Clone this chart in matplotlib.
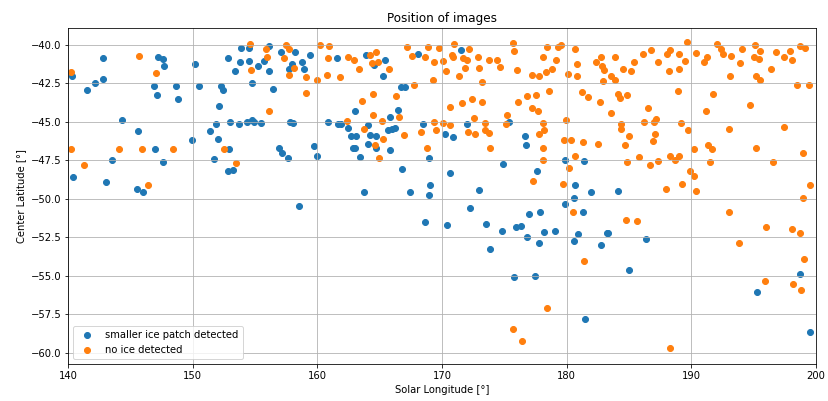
import matplotlib
matplotlib.use("Agg")
import matplotlib.pyplot as plt

# smaller ice patch detected (solar longitude, center latitude)
ice_lon = [140.32, 140.40, 141.50, 142.14, 142.78, 142.80, 142.99, 143.47, 144.35, 145.52,
           146.03, 145.63, 146.91, 147.15, 147.23, 147.60, 147.68, 146.99, 147.60, 148.67,
           148.80, 149.90, 150.14, 150.48, 151.39, 151.68, 151.84, 152.03, 152.11, 152.27,
           152.38, 152.80, 152.88, 153.02, 153.26, 152.83, 153.36, 153.76, 153.87, 154.51,
           154.51, 154.75, 153.71, 154.32, 154.75, 154.88,
           155.26, 155.50, 155.74, 156.08, 156.14, 156.40, 157.07, 157.68, 157.95, 158.22,
           158.80, 158.96, 159.44, 157.79, 158.06, 156.88, 157.15, 157.66, 159.71, 159.95,
           160.86, 161.60, 161.68, 161.87, 162.48, 162.70, 163.07, 163.02, 162.86, 163.02,
           163.44, 163.87, 164.08, 164.19, 164.06, 164.51, 164.72, 164.67, 165.23, 165.44,
           165.82, 165.82, 165.68, 166.00, 166.19, 166.46, 166.72, 167.07, 166.80, 167.47,
           163.76, 168.46, 168.96, 169.04, 168.96, 168.08, 158.54, 168.62,
           170.22, 170.86, 170.67, 171.55, 171.98, 175.39, 174.88, 176.70, 176.78, 177.66,
           172.99, 179.87, 181.39, 180.64, 181.95, 184.16, 180.62,
           170.43, 172.24, 173.50, 173.82, 174.80, 175.92, 176.35, 176.86, 177.02, 177.87,
           177.76, 178.19, 179.07, 179.90, 180.56, 180.91, 181.31, 182.78, 183.23, 183.34,
           185.02, 175.82, 177.44, 181.47,
           186.35, 195.28, 198.72, 199.58]
ice_lat = [-42.05, -48.60, -42.92, -42.51, -40.86, -42.25, -48.88, -47.48, -44.86, -49.36,
           -49.55, -45.60, -42.66, -43.26, -40.78, -40.91, -41.38, -46.74, -47.61, -42.66,
           -43.52, -46.20, -41.25, -42.66, -45.60, -47.39, -45.15, -46.10, -44.00, -42.66,
           -42.94, -48.21, -46.74, -45.00, -48.13, -40.86, -41.73, -41.12, -40.19, -40.19,
           -41.06, -42.51, -45.15, -45.02, -44.86, -45.02,
           -41.38, -45.08, -41.08, -40.11, -41.73, -42.88, -40.50, -41.58, -41.23, -40.45,
           -41.12, -41.60, -40.65, -44.99, -45.06, -46.70, -47.03, -47.33, -46.55, -47.20,
           -44.99, -40.86, -45.15, -45.15, -45.43, -45.92, -45.92, -44.32, -46.72, -46.72,
           -47.31, -40.67, -45.23, -45.86, -46.42, -41.32, -45.92, -46.72, -42.05, -40.99,
           -46.85, -44.69, -45.56, -45.47, -45.40, -44.26, -42.72, -42.72, -48.08, -49.55,
           -49.55, -45.15, -47.33, -49.08, -49.73, -40.61, -50.48, -51.48,
           -45.79, -45.99, -48.32, -40.32, -45.15, -44.99, -47.74, -45.94, -46.53, -48.21,
           -49.40, -47.48, -47.54, -49.08, -49.53, -49.47, -49.94,
           -51.67, -50.61, -51.61, -53.29, -52.08, -51.82, -51.74, -52.49, -51.00, -50.83,
           -52.88, -52.15, -52.08, -50.35, -52.75, -52.26, -50.87, -53.01, -52.21, -52.21,
           -54.61, -55.09, -55.02, -57.77,
           -52.62, -56.02, -54.89, -58.63]

# no ice detected
none_lon = [140.22, 140.19, 141.28, 144.03, 145.68, 145.95, 146.43, 147.07, 148.40, 152.46,
            153.44, 154.59, 154.67,
            155.87, 155.92, 157.34, 157.47, 157.68, 157.68, 158.08, 159.12, 159.12, 156.08,
            159.95, 160.22, 160.94, 160.86, 160.78, 161.84, 162.48, 162.94, 163.34, 164.24,
            164.72, 164.40, 164.83, 165.74, 163.60, 164.48, 166.30, 162.35, 163.76, 164.48,
            165.15, 166.54, 165.26, 164.62, 164.91, 166.96, 167.23, 167.63, 168.64, 168.86,
            169.76, 169.39, 169.26, 167.79, 169.36, 170.08, 169.52, 168.30, 168.80,
            170.11, 170.32, 170.62, 170.67, 170.99, 170.80, 170.86, 171.66, 172.03, 172.19,
            171.34, 171.82, 172.88, 172.99, 173.20, 173.74, 174.40, 174.64, 175.71, 175.82,
            176.06, 172.40, 173.20, 171.58, 172.59, 172.08, 172.67, 173.42, 173.47, 173.74,
            173.82, 175.23, 175.12, 176.14, 176.80, 177.52, 177.26, 177.68, 178.59, 177.20,
            177.76, 178.35, 178.86, 178.08, 178.43, 179.18, 179.31, 179.58, 180.64, 180.83,
            180.80, 180.11, 181.28, 181.74, 182.72, 182.40, 182.75, 182.86, 182.99, 182.96,
            183.60, 183.87, 183.90, 184.54, 185.20, 184.14, 184.30, 184.88, 183.60, 184.35,
            184.38, 185.02, 184.67, 182.54, 181.31, 180.32, 179.82, 179.95, 178.11, 178.22,
            177.79, 178.08, 178.08, 180.70, 180.22, 179.74, 177.28, 184.83,
            180.48, 181.39, 178.40, 175.74, 176.46, 184.78,
            185.42, 186.16, 186.75, 187.34, 188.08, 188.32, 188.19, 188.99, 188.99, 189.47,
            189.66, 190.40, 191.26, 191.07, 192.11, 192.40, 192.54, 193.20, 193.92, 194.08,
            195.15, 195.07, 195.52, 195.47, 195.18, 195.52, 193.12, 196.40, 196.83, 197.47,
            197.92, 198.11, 198.78, 199.18, 198.54, 199.44, 188.94, 191.79, 191.23, 194.75,
            186.51, 186.19, 186.99, 187.18, 189.15, 189.74, 193.02, 197.47, 187.07, 186.91,
            190.22, 191.34, 191.71, 195.18, 185.79, 186.70, 187.34, 188.27, 188.67, 188.99,
            191.52, 196.56, 198.96, 189.90, 190.24, 188.00, 189.23, 190.40, 199.55, 198.99,
            185.68, 193.04, 196.00, 198.11, 198.78, 193.87, 199.07, 195.90, 198.22, 198.86,
            188.32]
none_lat = [-41.77, -46.74, -47.80, -46.74, -40.71, -46.74, -49.08, -41.86, -46.74, -46.74,
            -47.67, -39.96, -41.64,
            -40.26, -40.80, -40.86, -40.00, -40.26, -41.97, -41.51, -42.12, -43.13, -44.32,
            -42.31, -40.00, -40.07, -40.86, -41.97, -42.08, -40.78, -41.02, -41.60, -40.65,
            -40.48, -41.19, -41.12, -41.56, -43.65, -43.18, -43.33, -44.93, -45.47, -44.54,
            -44.93, -44.69, -46.12, -46.53, -47.33, -45.88, -40.13, -40.74, -40.80, -40.13,
            -40.22, -41.12, -42.27, -42.59, -44.99, -45.08, -45.51, -45.66, -46.72,
            -41.08, -41.73, -45.21, -44.06, -39.93, -40.65, -40.80, -40.86, -40.97, -40.26,
            -42.05, -41.54, -40.80, -41.54, -42.44, -40.99, -40.99, -41.45, -39.89, -40.41,
            -41.67, -43.52, -43.72, -43.78, -44.73, -45.69, -45.82, -45.06, -45.51, -45.73,
            -46.72, -44.54, -45.15, -43.72, -43.35, -43.26, -44.13, -44.32, -42.98, -41.99,
            -42.05, -41.79, -41.60, -40.80, -40.13, -40.99, -40.13, -40.02, -40.26, -41.25,
            -42.05, -41.90, -43.09, -43.39, -43.70, -41.15, -40.80, -41.40, -41.64, -42.38,
            -42.05, -42.27, -40.80, -41.58, -41.71, -43.18, -43.44, -43.26, -44.45, -45.12,
            -45.47, -45.94, -46.49, -46.42, -46.33, -46.20, -46.20, -44.86, -45.08, -45.51,
            -45.82, -46.72, -47.48, -47.24, -48.00, -49.01, -48.86, -47.61,
            -50.87, -54.03, -57.10, -58.44, -59.24, -51.35,
            -41.15, -40.63, -40.35, -41.12, -40.63, -40.35, -41.73, -40.63, -41.56, -41.06,
            -39.85, -40.52, -40.78, -41.15, -39.96, -40.30, -40.63, -40.74, -41.19, -40.26,
            -40.00, -40.80, -40.39, -40.93, -42.05, -42.31, -42.05, -41.60, -40.45, -40.80,
            -40.39, -40.99, -40.11, -40.20, -42.59, -42.59, -42.98, -43.20, -44.32, -43.93,
            -44.09, -44.99, -44.99, -44.80, -45.08, -45.53, -45.47, -45.34, -45.82, -46.27,
            -46.74, -46.53, -46.74, -46.68, -47.26, -47.83, -47.57, -47.22, -47.50, -47.22,
            -47.61, -47.61, -47.03, -48.21, -48.54, -49.36, -49.01, -49.49, -49.08, -49.94,
            -51.41, -50.83, -51.82, -51.95, -52.21, -52.88, -53.90, -55.35, -55.50, -55.89,
            -59.71]

fig = plt.figure(figsize=(828 / 72, 401 / 72), dpi=72)
ax = fig.add_axes([0.0825, 0.0923, 0.9026, 0.8371])

ax.scatter(ice_lon, ice_lat, label="smaller ice patch detected")
ax.scatter(none_lon, none_lat, label="no ice detected")

ax.set_xlim(140, 200)
ax.set_ylim(-60.72, -38.94)
ax.set_title("Position of images")
ax.set_xlabel("Solar Longitude [°]")
ax.set_ylabel("Center Latitude [°]")
ax.grid(True)
ax.legend(loc="lower left")

fig.savefig("out.png", dpi=72)
